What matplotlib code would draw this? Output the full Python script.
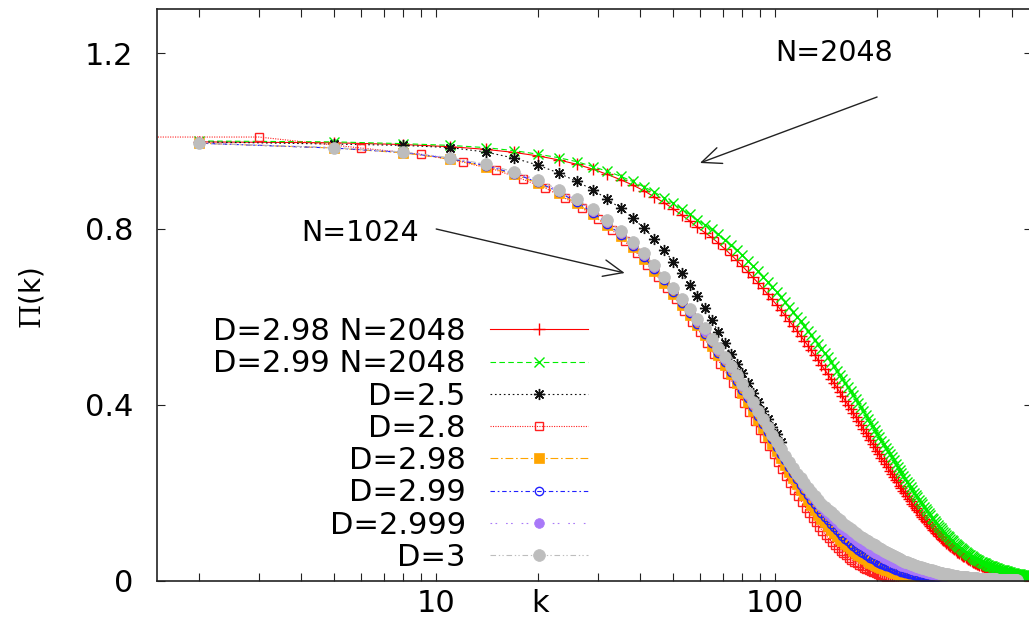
import numpy as np
import matplotlib
matplotlib.use('Agg')
import matplotlib.pyplot as plt
from matplotlib.ticker import LogLocator, NullFormatter

plt.rcParams['font.family'] = ['DejaVu Sans']
plt.rcParams['mathtext.fontset'] = 'custom'
plt.rcParams['mathtext.rm'] = 'DejaVu Serif'

# k grid used by most curves (every 3rd k)
k = np.arange(2, 563, 3)
k_28 = np.arange(0, 563, 3)   # D=2.8 starts at k=0

# D=2.98 N=2048
pi_298_2048 = [
    0.998, 0.996, 0.992, 0.987, 0.981, 0.974, 0.966, 0.957, 0.947, 0.936,
    0.924, 0.912, 0.900, 0.887, 0.873, 0.860, 0.846, 0.832, 0.818, 0.804,
    0.792, 0.781, 0.768, 0.755, 0.742, 0.729, 0.716, 0.703, 0.690, 0.678,
    0.665, 0.652, 0.640, 0.628, 0.616, 0.604, 0.592, 0.580, 0.569, 0.557,
    0.546, 0.535, 0.524, 0.513, 0.502, 0.491, 0.481, 0.470, 0.460, 0.450,
    0.440, 0.430, 0.420, 0.410, 0.401, 0.391, 0.382, 0.373, 0.364, 0.355,
    0.346, 0.337, 0.329, 0.320, 0.312, 0.304, 0.296, 0.288, 0.280, 0.273,
    0.265, 0.258, 0.251, 0.244, 0.237, 0.230, 0.224, 0.217, 0.211, 0.205,
    0.199, 0.193, 0.187, 0.182, 0.176, 0.171, 0.166, 0.161, 0.156, 0.151,
    0.146, 0.142, 0.137, 0.133, 0.129, 0.125, 0.121, 0.117, 0.113, 0.110,
    0.106, 0.103, 0.099, 0.096, 0.093, 0.090, 0.087, 0.084, 0.082, 0.079,
    0.077, 0.074, 0.072, 0.070, 0.067, 0.065, 0.063, 0.061, 0.059, 0.057,
    0.056, 0.054, 0.052, 0.050, 0.049, 0.047, 0.046, 0.044, 0.043, 0.042,
    0.040, 0.039, 0.038, 0.037, 0.036, 0.034, 0.033, 0.032, 0.031, 0.030,
    0.030, 0.029, 0.028, 0.027, 0.026, 0.025, 0.025, 0.024, 0.023, 0.023,
    0.022, 0.021, 0.021, 0.020, 0.019, 0.019, 0.018, 0.018, 0.017, 0.017,
    0.016, 0.016, 0.015, 0.015, 0.014, 0.014, 0.014, 0.013, 0.013, 0.012,
    0.012, 0.012, 0.011, 0.011, 0.011, 0.010, 0.010, 0.010, 0.009, 0.009,
    0.009, 0.009, 0.008, 0.008, 0.008, 0.008, 0.007]

# D=2.99 N=2048
pi_299_2048 = [
    1.000, 0.998, 0.994, 0.990, 0.985, 0.978, 0.970, 0.962, 0.953, 0.942,
    0.931, 0.920, 0.908, 0.896, 0.884, 0.871, 0.858, 0.846, 0.833, 0.820,
    0.810, 0.799, 0.788, 0.776, 0.764, 0.752, 0.740, 0.728, 0.716, 0.704,
    0.692, 0.680, 0.668, 0.656, 0.645, 0.634, 0.623, 0.612, 0.601, 0.590,
    0.580, 0.569, 0.559, 0.548, 0.538, 0.528, 0.518, 0.508, 0.498, 0.488,
    0.478, 0.469, 0.459, 0.450, 0.440, 0.431, 0.422, 0.413, 0.404, 0.395,
    0.386, 0.377, 0.369, 0.360, 0.352, 0.343, 0.335, 0.327, 0.319, 0.311,
    0.303, 0.296, 0.288, 0.281, 0.274, 0.266, 0.259, 0.252, 0.246, 0.239,
    0.232, 0.226, 0.220, 0.213, 0.207, 0.201, 0.196, 0.190, 0.184, 0.179,
    0.174, 0.168, 0.163, 0.158, 0.154, 0.149, 0.144, 0.140, 0.136, 0.131,
    0.127, 0.123, 0.120, 0.116, 0.112, 0.109, 0.105, 0.102, 0.099, 0.096,
    0.093, 0.090, 0.087, 0.084, 0.082, 0.079, 0.077, 0.074, 0.072, 0.070,
    0.068, 0.066, 0.064, 0.062, 0.060, 0.058, 0.056, 0.055, 0.053, 0.051,
    0.050, 0.048, 0.047, 0.046, 0.044, 0.043, 0.042, 0.041, 0.040, 0.039,
    0.037, 0.036, 0.035, 0.035, 0.034, 0.033, 0.032, 0.031, 0.030, 0.029,
    0.029, 0.028, 0.027, 0.026, 0.026, 0.025, 0.024, 0.024, 0.023, 0.023,
    0.022, 0.021, 0.021, 0.020, 0.020, 0.019, 0.019, 0.018, 0.018, 0.017,
    0.017, 0.016, 0.016, 0.016, 0.015, 0.015, 0.014, 0.014, 0.014, 0.013,
    0.013, 0.013, 0.012, 0.012, 0.012, 0.011, 0.011]

# D=2.5 (N=1024)
pi_25 = [
    0.998, 0.993, 0.990, 0.985, 0.975, 0.961, 0.945, 0.927, 0.908, 0.889,
    0.868, 0.847, 0.825, 0.802, 0.778, 0.752, 0.726, 0.699, 0.672, 0.647,
    0.621, 0.594, 0.566, 0.542, 0.517, 0.493, 0.472, 0.450, 0.428, 0.406,
    0.387, 0.368, 0.350, 0.333, 0.316]

# D=2.8 (N=1024), k = 0, 3, 6, ...
pi_28 = [
    1.010, 1.009, 0.984, 0.970, 0.952, 0.934, 0.913, 0.893, 0.870, 0.847,
    0.823, 0.798, 0.772, 0.746, 0.719, 0.692, 0.666, 0.640, 0.614, 0.589,
    0.565, 0.541, 0.517, 0.494, 0.471, 0.449, 0.427, 0.405, 0.384, 0.364,
    0.344, 0.325, 0.306, 0.288, 0.271, 0.254, 0.238, 0.222, 0.207, 0.193,
    0.180, 0.167, 0.155, 0.144, 0.133, 0.123, 0.114, 0.105, 0.097, 0.089,
    0.082, 0.075, 0.069, 0.063, 0.058, 0.053, 0.048, 0.044, 0.040, 0.036,
    0.033, 0.030, 0.027, 0.024, 0.022, 0.020, 0.018, 0.016, 0.014, 0.013,
    0.011, 0.010, 0.009, 0.008, 0.007, 0.006, 0.006, 0.005, 0.004, 0.004,
    0.003, 0.003, 0.003, 0.002, 0.002, 0.002, 0.002, 0.001, 0.001, 0.001,
    0.001, 0.001, 0.001, 0.001, 0.001, 0.0, 0.0, 0.0, 0.0, 0.0,
    0.0, 0.0, 0.0, 0.0, 0.0, 0.0, 0.0, 0.0, 0.0, 0.0, 0.0]

# D=2.98 (N=1024)
pi_298 = [
    0.995, 0.984, 0.973, 0.959, 0.942, 0.924, 0.904, 0.881, 0.858, 0.834,
    0.809, 0.784, 0.758, 0.732, 0.705, 0.678, 0.653, 0.628, 0.604, 0.581,
    0.558, 0.535, 0.513, 0.492, 0.470, 0.449, 0.428, 0.407, 0.387, 0.367,
    0.348, 0.330, 0.312, 0.295, 0.279, 0.263, 0.248, 0.234, 0.220, 0.207,
    0.195, 0.183, 0.172, 0.161, 0.151, 0.142, 0.133, 0.125, 0.117, 0.110,
    0.103, 0.096, 0.090, 0.084, 0.079, 0.074, 0.069, 0.064, 0.060, 0.056,
    0.052, 0.049, 0.045, 0.042, 0.039, 0.037, 0.034, 0.032, 0.030, 0.028,
    0.026, 0.024, 0.022, 0.021, 0.019, 0.018, 0.016, 0.015, 0.014, 0.013,
    0.012, 0.011, 0.010, 0.009, 0.009, 0.008, 0.007, 0.007, 0.006, 0.006,
    0.005, 0.005, 0.005, 0.004, 0.004, 0.004, 0.003, 0.003, 0.003, 0.003,
    0.002, 0.002, 0.002, 0.002, 0.002, 0.002, 0.002, 0.002, 0.002, 0.002]

# D=2.99 (N=1024)
pi_299 = [
    0.995, 0.984, 0.974, 0.960, 0.944, 0.926, 0.906, 0.884, 0.861, 0.837,
    0.812, 0.787, 0.762, 0.736, 0.709, 0.683, 0.657, 0.632, 0.608, 0.585,
    0.562, 0.540, 0.518, 0.497, 0.476, 0.455, 0.435, 0.415, 0.395, 0.376,
    0.357, 0.339, 0.322, 0.305, 0.289, 0.274, 0.259, 0.245, 0.232, 0.219,
    0.207, 0.195, 0.184, 0.174, 0.164, 0.155, 0.146, 0.138, 0.130, 0.122,
    0.115, 0.108, 0.102, 0.096, 0.091, 0.085, 0.080, 0.076, 0.071, 0.067,
    0.063, 0.060, 0.056, 0.053, 0.050, 0.047, 0.044, 0.042, 0.039, 0.037,
    0.035, 0.033, 0.031, 0.029, 0.027, 0.026, 0.024, 0.023, 0.021, 0.020,
    0.019, 0.018, 0.017, 0.016, 0.015, 0.014, 0.013, 0.012, 0.011, 0.011,
    0.010, 0.009, 0.009, 0.008, 0.008, 0.007, 0.007, 0.006, 0.006, 0.005,
    0.005, 0.005, 0.004, 0.004, 0.004, 0.003, 0.003, 0.003, 0.003, 0.002,
    0.002, 0.002, 0.002, 0.002, 0.002, 0.002]

# D=2.999 (N=1024)
pi_2999 = [
    0.995, 0.985, 0.975, 0.961, 0.946, 0.928, 0.909, 0.887, 0.865, 0.842,
    0.817, 0.792, 0.767, 0.741, 0.714, 0.688, 0.663, 0.638, 0.614, 0.591,
    0.569, 0.547, 0.526, 0.505, 0.484, 0.463, 0.443, 0.423, 0.403, 0.384,
    0.365, 0.347, 0.330, 0.313, 0.297, 0.282, 0.268, 0.254, 0.241, 0.229,
    0.217, 0.206, 0.196, 0.186, 0.177, 0.168, 0.160, 0.152, 0.145, 0.138,
    0.131, 0.125, 0.119, 0.113, 0.108, 0.103, 0.098, 0.093, 0.089, 0.085,
    0.081, 0.077, 0.074, 0.070, 0.067, 0.064, 0.061, 0.058, 0.056, 0.053,
    0.051, 0.049, 0.046, 0.044, 0.042, 0.041, 0.039, 0.037, 0.035, 0.034,
    0.032, 0.031, 0.030, 0.028, 0.027, 0.026, 0.025, 0.024, 0.023, 0.022,
    0.021, 0.020, 0.019, 0.018, 0.018, 0.017, 0.016, 0.015, 0.015, 0.014,
    0.013, 0.013, 0.012, 0.012, 0.011, 0.011, 0.010, 0.010, 0.009, 0.009,
    0.009, 0.008, 0.008, 0.008, 0.007, 0.007, 0.007, 0.006, 0.006, 0.006,
    0.006, 0.005, 0.005, 0.005, 0.005, 0.004, 0.004, 0.004, 0.004, 0.004]

# D=3 (N=1024)
pi_3 = [
    0.995, 0.985, 0.975, 0.962, 0.947, 0.930, 0.912, 0.889, 0.868, 0.845,
    0.820, 0.795, 0.770, 0.745, 0.718, 0.691, 0.667, 0.642, 0.618, 0.596,
    0.574, 0.551, 0.530, 0.510, 0.489, 0.468, 0.447, 0.427, 0.406, 0.386,
    0.368, 0.350, 0.332, 0.316, 0.300, 0.285, 0.271, 0.257, 0.244, 0.233,
    0.222, 0.212, 0.202, 0.193, 0.184, 0.176, 0.168, 0.161, 0.156, 0.150,
    0.144, 0.138, 0.132, 0.127, 0.122, 0.118, 0.114, 0.110, 0.105, 0.101,
    0.098, 0.094, 0.091, 0.087, 0.084, 0.081, 0.078, 0.075, 0.072, 0.069,
    0.066, 0.064, 0.061, 0.059, 0.056, 0.054, 0.052, 0.050, 0.048, 0.046,
    0.044, 0.043, 0.041, 0.039, 0.038, 0.036, 0.035, 0.033, 0.032, 0.031,
    0.030, 0.029, 0.028, 0.027, 0.026, 0.025, 0.024, 0.023, 0.022, 0.021,
    0.020, 0.019, 0.018, 0.018, 0.017, 0.016, 0.015, 0.015, 0.014, 0.013,
    0.013, 0.012, 0.012, 0.011, 0.011, 0.010, 0.010, 0.009, 0.009, 0.009,
    0.008, 0.008, 0.008, 0.007, 0.007, 0.007, 0.007, 0.006, 0.006, 0.006,
    0.006, 0.006, 0.005, 0.005, 0.005, 0.005, 0.005, 0.005, 0.004, 0.004,
    0.004, 0.004, 0.004, 0.004, 0.004, 0.004, 0.004, 0.004, 0.004, 0.004,
    0.003, 0.003, 0.003, 0.003, 0.003, 0.003, 0.003, 0.003, 0.003, 0.003,
    0.002, 0.002, 0.002, 0.002, 0.002, 0.002, 0.002, 0.002, 0.002, 0.002,
    0.002, 0.002, 0.002]

labels = ['D=2.98 N=2048', 'D=2.99 N=2048', 'D=2.5', 'D=2.8',
          'D=2.98', 'D=2.99', 'D=2.999', 'D=3']

fig = plt.figure(figsize=(10.29, 6.27), dpi=100)
ax = fig.add_axes([157 / 1029, 1 - 581 / 627, 875 / 1029, 572 / 627])

ms_lw = 1.0
ax.plot(k[:len(pi_298_2048)], pi_298_2048, color='#ff0000', ls='-', lw=0.8,
        marker='+', ms=8, mew=ms_lw, label=labels[0])
ax.plot(k[:len(pi_299_2048)], pi_299_2048, color='#00ee00', ls=(0, (5, 3)), lw=0.8,
        marker='x', ms=6.5, mew=ms_lw, label=labels[1])
ax.plot(k[:len(pi_25)], pi_25, color='#111111', ls=(0, (1.5, 2.5)), lw=0.8,
        marker=(8, 2, 0), ms=8, mew=ms_lw, label=labels[2])
ax.plot(k_28[:len(pi_28)], pi_28, color='#ff2020', ls=(0, (1, 1.2)), lw=0.8,
        marker='s', ms=6, mfc='none', mew=ms_lw, label=labels[3])
ax.plot(k[:len(pi_298)], pi_298, color='#ffa500', ls=(0, (7, 2.5, 1.5, 2.5)), lw=0.8,
        marker='s', ms=6.5, mew=0.5, label=labels[4])
ax.plot(k[:len(pi_299)], pi_299, color='#2020ff', ls=(0, (4, 2.5, 1.5, 2.5)), lw=0.8,
        marker='o', ms=6, mfc='none', mew=ms_lw, label=labels[5])
ax.plot(k[:len(pi_2999)], pi_2999, color='#a878f8', ls=(0, (1.5, 3, 1.5, 8)), lw=0.8,
        marker='o', ms=7, mew=0.5, label=labels[6])
ax.plot(k[:len(pi_3)], pi_3, color='#bdbdbd', ls=(0, (5, 2.5, 1.2, 2, 1.2, 2.5)), lw=0.8,
        marker='o', ms=8.5, mew=0.5, label=labels[7])

ax.set_xscale('log')
ax.set_xlim(1.5, 573)
ax.set_ylim(0, 1.3)

ax.set_xticks([10, 100], ['10', '100'])
ax.xaxis.set_minor_locator(LogLocator(base=10, subs=np.arange(2, 10)))
ax.xaxis.set_minor_formatter(NullFormatter())
ax.set_yticks([0, 0.4, 0.8, 1.2], ['0', '0.4', '0.8', '1.2'])

for s in ax.spines.values():
    s.set_linewidth(1.2)
    s.set_color('#222222')
ax.tick_params(which='both', direction='in', top=True, right=True,
               length=6, width=0.8, color='#222222', labelsize=22)
ax.tick_params(axis='x', which='both', pad=6)
ax.tick_params(axis='y', pad=17)

fig.text(32 / 1029, 1 - 298 / 627, r'$\mathrm{\Pi}$(k)', rotation=90,
         ha='center', va='center', fontsize=20)
fig.text(540 / 1029, 1 - 603 / 627, 'k', ha='center', va='center', fontsize=22)

ax.text(100, 1.2, 'N=2048', fontsize=20.5, ha='left', va='center')
ax.text(4.0, 0.79, 'N=1024', fontsize=20.5, ha='left', va='center')
arrow = dict(arrowstyle='->,head_length=0.7,head_width=0.3', color='#222222',
             lw=1.0, shrinkA=0, shrinkB=0, mutation_scale=20)
ax.annotate('', xy=(60, 0.95), xytext=(200, 1.1), arrowprops=arrow)
ax.annotate('', xy=(36, 0.70), xytext=(10, 0.80), arrowprops=arrow)

leg = ax.legend(loc='center right', bbox_to_anchor=(588 / 1029, 1 - 444.5 / 627),
                bbox_transform=fig.transFigure, frameon=False, markerfirst=False,
                fontsize=22, borderpad=0, borderaxespad=0, handlelength=3.2,
                handletextpad=0.8, labelspacing=0.108, numpoints=1)

fig.savefig('out.png', dpi=100)
